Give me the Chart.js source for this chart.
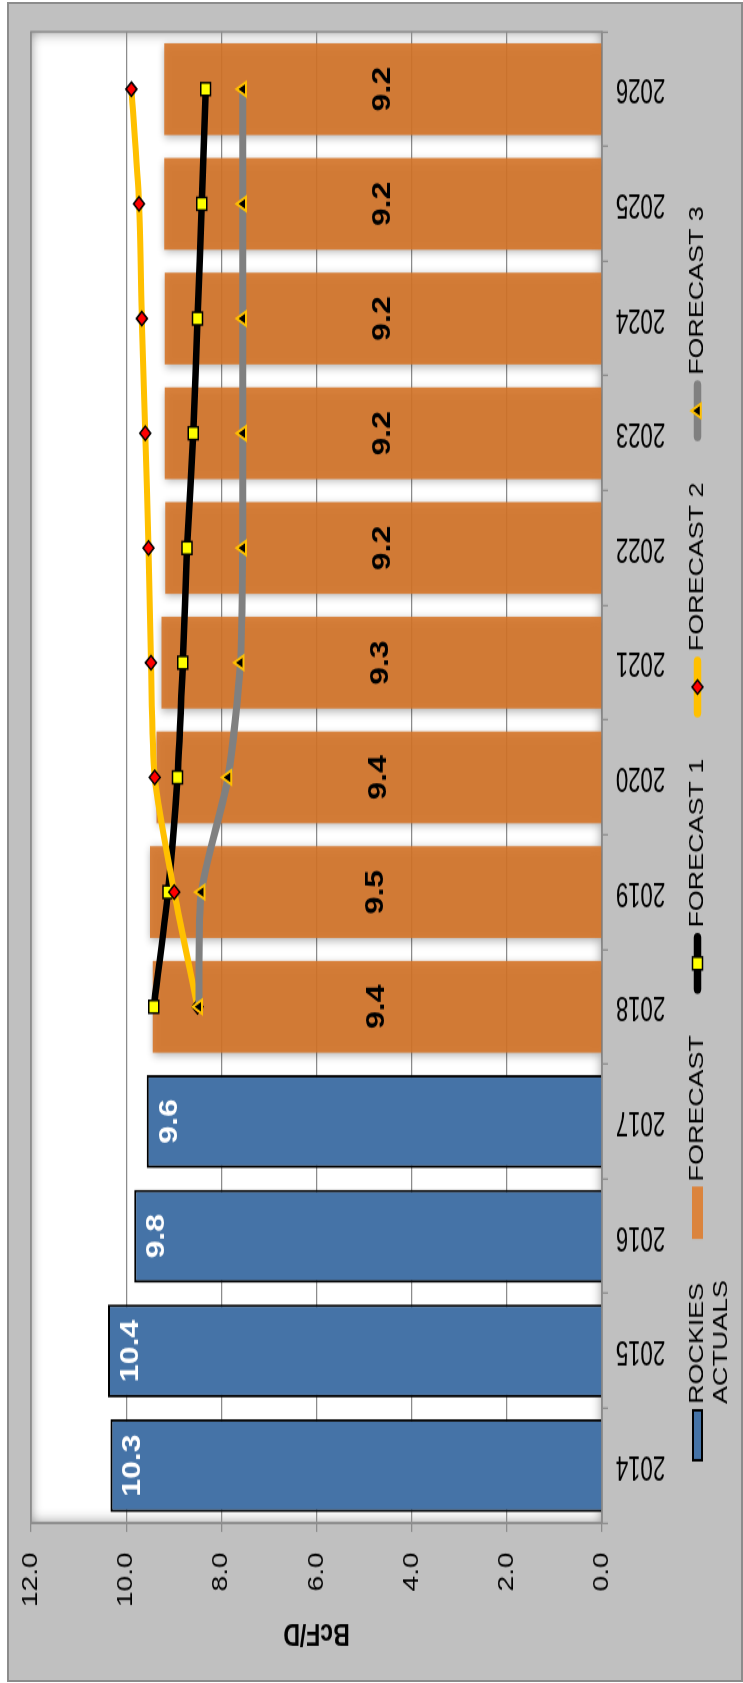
<!DOCTYPE html>
<html>
<head>
<meta charset="utf-8">
<title>Rockies supply</title>
<script src="https://cdn.jsdelivr.net/npm/chart.js@4.4.1/dist/chart.umd.min.js"></script>
<style>
  html, body { margin: 0; padding: 0; background: #fff; }
  body { width: 743px; height: 1683px; position: relative; overflow: hidden; }
  #frame {
    position: absolute; left: 7px; top: 2px; width: 736px; height: 1680px;
    box-sizing: border-box; background: #c0c0c0; border: 2px solid #8c8c8c;
  }
  /* the chart is laid out landscape, then turned on its side and stretched like the original */
  #myChart {
    position: absolute; left: 0; top: 0;
    transform-origin: 0 0;
    transform: translateY(1683px) rotate(-90deg) scaleX(1.28);
  }
</style>
</head>
<body>
<div id="frame"></div>
<canvas id="myChart" width="1315" height="743"></canvas>
<script>
// Categories and series values
const years = ["2014", "2015", "2016", "2017", "2018", "2019", "2020", "2021", "2022", "2023", "2024", "2025", "2026"];
const actuals = [10.33, 10.38, 9.83, 9.57, null, null, null, null, null, null, null, null, null];
const forecast = [null, null, null, null, 9.44, 9.5, 9.36, 9.26, 9.18, 9.19, 9.19, 9.2, 9.2];
const forecast1 = [null, null, null, null, 9.42, 9.12, 8.92, 8.81, 8.72, 8.59, 8.5, 8.41, 8.33];
const forecast2 = [null, null, null, null, 8.5, 8.99, 9.4, 9.48, 9.53, 9.6, 9.67, 9.73, 9.89];
const forecast3 = [null, null, null, null, 8.47, 8.42, 7.86, 7.6, 7.55, 7.55, 7.55, 7.55, 7.55];
const seriesNames = ["ROCKIES ACTUALS", "FORECAST", "FORECAST 1", "FORECAST 2", "FORECAST 3"];
const axisTitle = "BcF/D";
const valueMin = 0;
const valueMax = 12;
const valueStep = 2;

const FONT = '"Liberation Sans", Arial, sans-serif';

// white plot area with a soft inner shadow
const plotBackground = {
  id: "plotBackground",
  beforeDraw(chart) {
    const { ctx, chartArea: a } = chart;
    const w = a.right - a.left, h = a.bottom - a.top;
    ctx.save();
    ctx.fillStyle = "#fff";
    ctx.fillRect(a.left, a.top, w, h);
    ctx.beginPath();
    ctx.rect(a.left, a.top, w, h);
    ctx.clip();
    ctx.shadowColor = "rgba(0,0,0,0.45)";
    ctx.shadowBlur = 11;
    ctx.lineWidth = 20;
    ctx.strokeStyle = "#000";
    ctx.strokeRect(a.left - 10, a.top - 10, w + 20, h + 20);
    ctx.restore();
  },
  beforeDatasetsDraw(chart) {
    const { ctx, chartArea: a } = chart;
    ctx.save();
    ctx.strokeStyle = "#8c8c8c";
    ctx.lineWidth = 1.5;
    ctx.strokeRect(a.left, a.top, a.right - a.left, a.bottom - a.top);
    ctx.restore();
  },
};

// drop shadow under the bars
const barShadow = {
  id: "barShadow",
  beforeDatasetDraw(chart, args) {
    if (args.meta.type !== "bar") return;
    const ctx = chart.ctx;
    ctx.save();
    ctx.shadowColor = "rgba(0,0,0,0.35)";
    ctx.shadowBlur = 7;
    ctx.shadowOffsetX = -2;
  },
  afterDatasetDraw(chart, args) {
    if (args.meta.type !== "bar") return;
    chart.ctx.restore();
  },
};

// value labels, year labels and the legend
const textLayer = {
  id: "textLayer",
  afterDatasetsDraw(chart) {
    const ctx = chart.ctx;
    ctx.save();
    ctx.font = "bold 25px " + FONT;
    ctx.textAlign = "center";
    ctx.textBaseline = "middle";
    chart.getDatasetMeta(0).data.forEach((bar, i) => {
      if (actuals[i] == null) return;
      ctx.fillStyle = "#fff";
      ctx.fillText(actuals[i].toFixed(1), bar.x, bar.y + 23);
    });
    chart.getDatasetMeta(1).data.forEach((bar, i) => {
      if (forecast[i] == null) return;
      ctx.fillStyle = "#000";
      ctx.fillText(forecast[i].toFixed(1), bar.x, (bar.y + bar.base) / 2);
    });

    // year labels: narrow type, standing on end
    const xs = chart.scales.x;
    ctx.font = "27px " + FONT;
    ctx.fillStyle = "#000";
    years.forEach((yr, i) => {
      ctx.save();
      ctx.translate(xs.getPixelForTick(i), 640.5);
      ctx.rotate(-Math.PI / 2);
      ctx.scale(0.82, 1);
      ctx.fillText(yr, 0, 0);
      ctx.restore();
    });

    // legend
    const midY = 697.5;
    let x = 173;
    ctx.font = "21px " + FONT;
    ctx.textAlign = "left";
    chart.data.datasets.forEach((ds, i) => {
      const lines = i === 0 ? ds.label.split(" ") : [ds.label]; // first entry wraps in the original
      let w;
      if (ds.type === "line") {
        w = 48;
        ctx.strokeStyle = ds.borderColor;
        ctx.lineWidth = 7.5;
        ctx.lineCap = "round";
        ctx.beginPath();
        ctx.moveTo(x + 4, midY);
        ctx.lineTo(x + w - 4, midY);
        ctx.stroke();
        ctx.fillStyle = ds.pointBackgroundColor;
        ctx.strokeStyle = ds.pointBorderColor;
        ctx.lineWidth = ds.pointBorderWidth;
        Chart.helpers.drawPoint(ctx, {
          pointStyle: ds.pointStyle, radius: ds.pointRadius,
          borderWidth: ds.pointBorderWidth, rotation: 0,
        }, x + w / 2, midY);
      } else {
        w = 41;
        ctx.fillStyle = ds.legendColor;
        ctx.fillRect(x, midY - 5.5, w, 11);
        if (ds.borderWidth) {
          ctx.strokeStyle = ds.borderColor;
          ctx.lineWidth = ds.borderWidth;
          ctx.strokeRect(x + 1, midY - 4.5, w - 2, 9);
        }
      }
      ctx.fillStyle = "#000";
      let tw = 0;
      lines.forEach((t, k) => {
        ctx.fillText(t, x + w + 4, midY + k * 23.5);
        tw = Math.max(tw, ctx.measureText(t).width);
      });
      x += w + 4 + tw + 32;
    });
    ctx.restore();
  },
};

const data = {
  labels: years,
  datasets: [
    {
      label: seriesNames[0],
      data: actuals,
      backgroundColor: "#4573a7",
      legendColor: "#4573a7",
      borderColor: "#000",
      borderWidth: 2,
      grouped: false,
      categoryPercentage: 1,
      barPercentage: 0.81,
      order: 5,
    },
    {
      label: seriesNames[1],
      data: forecast,
      backgroundColor: "rgba(213,116,40,0.9)",
      legendColor: "#db843d",
      borderWidth: 0,
      grouped: false,
      categoryPercentage: 1,
      barPercentage: 0.8,
      order: 4,
    },
    {
      type: "line",
      label: seriesNames[2],
      data: forecast1,
      borderColor: "#000",
      borderWidth: 6.5,
      tension: 0.25,
      pointStyle: "rect",
      pointRadius: 7,
      pointBackgroundColor: "#ffff00",
      pointBorderColor: "#000",
      pointBorderWidth: 1.5,
      order: 3,
    },
    {
      type: "line",
      label: seriesNames[3],
      data: forecast2,
      borderColor: "#ffc000",
      borderWidth: 6,
      tension: 0.25,
      pointStyle: "rectRot",
      pointRadius: 5.5,
      pointBackgroundColor: "#ff0000",
      pointBorderColor: "#000",
      pointBorderWidth: 1.5,
      order: 2,
    },
    {
      type: "line",
      label: seriesNames[4],
      data: forecast3,
      borderColor: "#808080",
      borderWidth: 7,
      tension: 0.25,
      pointStyle: "triangle",
      pointRadius: 6.3,
      pointBackgroundColor: "#000",
      pointBorderColor: "#ffc000",
      pointBorderWidth: 2,
      order: 1,
    },
  ],
};

const config = {
  type: "bar",
  data: data,
  options: {
    responsive: false,
    animation: false,
    devicePixelRatio: 1,
    layout: { padding: { left: 0, top: 31, right: 25, bottom: 0 } },
    plugins: { legend: { display: false }, tooltip: { enabled: false } },
    scales: {
      x: {
        ticks: { display: false },
        grid: { drawOnChartArea: false, tickLength: 6, color: "#8c8c8c", lineWidth: 1.3, offset: true },
        border: { color: "#8c8c8c", width: 1.5 },
        afterFit: (s) => { s.height = 141; },
      },
      y: {
        min: valueMin,
        max: valueMax,
        ticks: {
          stepSize: valueStep,
          color: "#000",
          padding: 16,
          font: { family: FONT, size: 22 },
          callback: (v) => Number(v).toFixed(1),
        },
        grid: { color: "#8c8c8c", lineWidth: 1.3, tickLength: 7 },
        border: { color: "#8c8c8c", width: 1.5 },
        title: {
          display: true,
          text: axisTitle,
          color: "#000",
          font: { family: FONT, size: 23, weight: "bold" },
          padding: { top: 26, bottom: 0 },
        },
        afterFit: (s) => { s.width = 125; },
      },
    },
  },
  plugins: [plotBackground, barShadow, textLayer],
};

const myChart = new Chart(document.getElementById("myChart").getContext("2d"), config);
</script>
</body>
</html>
